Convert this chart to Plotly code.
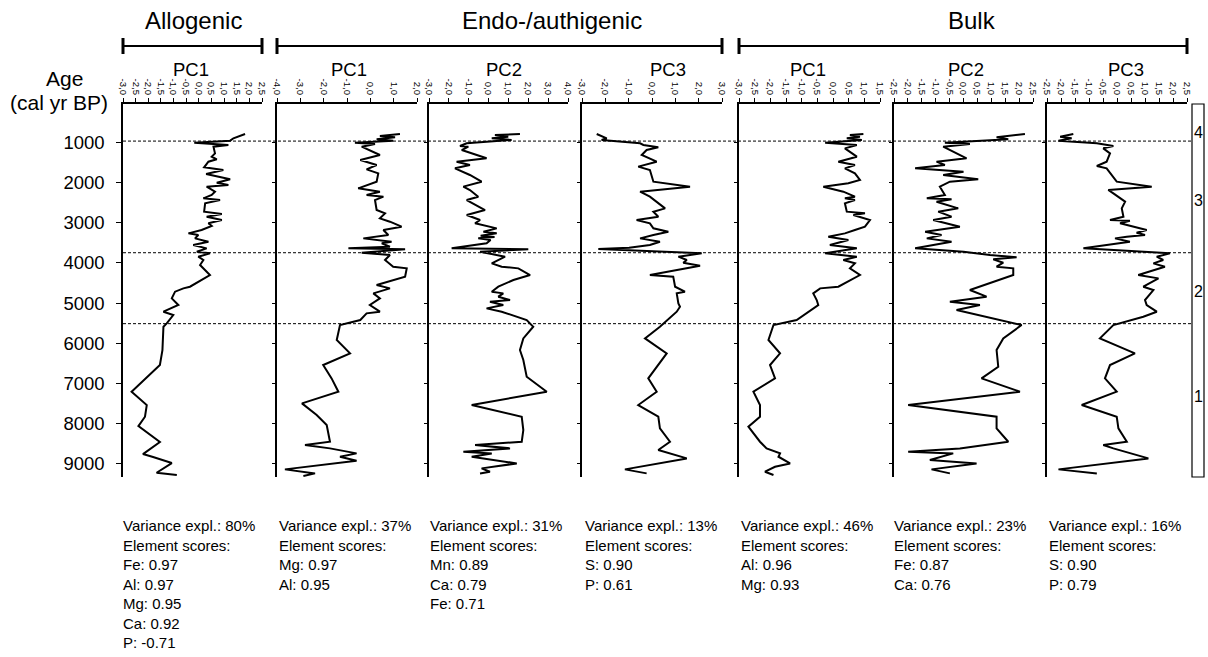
import plotly.graph_objects as go

W, H = 1208, 657
FONT = "Liberation Sans, Arial, sans-serif"

# ---------------- data ----------------
age_ticks = [1000, 2000, 3000, 4000, 5000, 6000, 7000, 8000, 9000]
zone_bounds = [960, 3745, 5515]
zone_labels = ["4", "3", "2", "1"]
zone_label_ages = [758, 2430, 4717, 7337]

group_names = ["Allogenic", "Endo-/authigenic", "Bulk"]
panel_names = ["PC1", "PC1", "PC2", "PC3", "PC1", "PC2", "PC3"]

ticks_allo_pc1 = [-3.0, -2.5, -2.0, -1.5, -1.0, -0.5, 0.0, 0.5, 1.0, 1.5, 2.0, 2.5]
ticks_endo_pc1 = [-4.0, -3.0, -2.0, -1.0, 0.0, 1.0, 2.0]
ticks_endo_pc2 = [-3.0, -2.0, -1.0, 0.0, 1.0, 2.0, 3.0, 4.0]
ticks_endo_pc3 = [-3.0, -2.0, -1.0, 0.0, 1.0, 2.0, 3.0]
ticks_bulk_pc1 = [-3.0, -2.5, -2.0, -1.5, -1.0, -0.5, 0.0, 0.5, 1.0, 1.5]
ticks_bulk_pc2 = [-2.5, -2.0, -1.5, -1.0, -0.5, 0.0, 0.5, 1.0, 1.5, 2.0, 2.5]
ticks_bulk_pc3 = [-2.5, -2.0, -1.5, -1.0, -0.5, 0.0, 0.5, 1.0, 1.5, 2.0, 2.5]

allo_pc1_age = [783, 891, 950, 1000, 1058, 1099, 1266, 1349, 1415, 1474, 1615, 1682, 1781, 1914,
                1998, 2056, 2097, 2222, 2305, 2388, 2430, 2513, 2721, 2779, 2846, 2929, 3012, 3079,
                3178, 3262, 3303, 3387, 3470, 3553, 3636, 3719, 3761, 3844, 3927, 4052, 4301, 4593,
                4634, 4717, 4884, 5050, 5216, 5300, 5507, 5591, 6173, 6547, 7212, 7545, 7836, 8069,
                8468, 8768, 8843, 8992, 9234, 9291]
allo_pc1 = [1.83, 1.37, 1.24, -0.18, 1.17, 0.58, 0.64, 0.51, 0.71, 0.38, 0.21, 0.97, 0.29, 1.24,
            0.71, 1.17, 0.31, 0.64, 0.51, 0.18, 0.84, 0.25, 0.21, 0.91, 0.31, 0.91, 0.38, 0.51,
            0.11, -0.41, -0.02, -0.15, 0.38, -0.22, 0.31, -0.08, 0.44, -0.02, 0.18, 0.05, 0.44, -0.35,
            -0.61, -0.94, -1.07, -0.81, -1.40, -1.01, -1.27, -1.40, -1.44, -1.54, -2.66, -2.06, -2.13, -2.39,
            -1.54, -2.21, -1.81, -1.07, -1.67, -0.87]

endo_pc1_age = [783, 833, 866, 916, 950, 1000, 1033, 1099, 1307, 1432, 1557, 1665, 1765, 1973,
                2139, 2222, 2305, 2347, 2430, 2680, 2763, 2887, 2971, 3095, 3178, 3303, 3387, 3470,
                3511, 3595, 3636, 3661, 3744, 3802, 3927, 4094, 4135, 4343, 4551, 4634, 4759, 4884,
                5050, 5216, 5258, 5424, 5549, 5923, 6256, 6547, 6880, 7212, 7503, 7795, 8044, 8460,
                8543, 8626, 8751, 8834, 8934, 9150, 9250, 9316]
endo_pc1 = [1.27, 0.41, 1.06, 0.27, 0.98, -0.66, 0.20, -0.37, 0.41, -0.43, 0.27, -0.16, 0.34, 0.27,
            -0.52, 0.41, -0.16, 0.56, 0.20, 0.27, 0.63, 0.41, 0.84, 1.34, 0.56, 0.77, -0.30, 0.91,
            0.49, 0.84, -0.94, 1.49, -0.37, 0.84, 0.63, 0.98, 1.56, 1.49, 0.27, 0.84, 0.13, 0.41,
            -0.02, 0.41, -0.16, -0.43, -1.30, -1.44, -0.87, -2.02, -1.66, -1.37, -2.93, -2.30, -1.87, -1.73,
            -2.80, -1.73, -0.59, -1.30, -0.59, -3.66, -2.37, -2.87]

endo_pc2_age = [783, 808, 850, 891, 933, 975, 1016, 1083, 1099, 1183, 1390, 1474, 1557, 1640,
                1806, 1973, 2097, 2181, 2347, 2430, 2555, 2680, 2804, 2929, 3012, 3137, 3220, 3262,
                3320, 3350, 3387, 3428, 3511, 3636, 3661, 3719, 3844, 4010, 4094, 4135, 4301, 4426,
                4593, 4717, 4759, 4842, 4925, 4967, 5050, 5133, 5216, 5258, 5424, 5591, 5882, 6173,
                6422, 6838, 7212, 7545, 7836, 8169, 8460, 8543, 8626, 8709, 8751, 8834, 9001, 9125,
                9208, 9250]
endo_pc2 = [1.58, 0.32, 0.99, 0.16, 1.16, 0.07, -1.10, -1.44, -1.02, -1.35, -0.10, -1.61, -0.94, -1.69,
            -0.94, -0.35, -1.27, -0.94, -0.52, -1.10, -0.60, -0.18, -1.10, -0.43, -0.68, 0.41, -0.26, 0.41,
            -0.40, 0.30, -0.52, 0.10, -0.10, -1.86, 2.00, -0.43, 0.83, 0.16, 0.66, 1.50, 2.09, 1.25,
            0.49, 0.16, 0.74, 0.49, 1.08, 0.07, 0.74, -0.10, 0.66, 0.91, 1.92, 2.25, 1.75, 1.58,
            1.75, 1.92, 2.93, -0.85, 1.67, 1.75, 1.67, -0.68, 1.08, -1.27, 0.16, -0.85, 1.42, -0.35,
            0.07, -0.43]

endo_pc3_age = [783, 891, 933, 950, 1016, 1058, 1116, 1183, 1307, 1474, 1598, 1682, 1973, 2097,
                2222, 2347, 2638, 2721, 2846, 2929, 3012, 3137, 3220, 3303, 3387, 3470, 3553, 3620,
                3655, 3761, 3844, 3927, 3994, 4069, 4301, 4343, 4593, 4717, 4759, 5009, 5092, 5216,
                5591, 5882, 6256, 6880, 7212, 7545, 7836, 8127, 8460, 8668, 8876, 9150, 9250]
endo_pc3 = [-2.37, -1.94, -2.16, -1.73, -0.51, -0.37, 0.27, -0.23, -0.44, 0.20, -0.59, -0.09, 0.06, 1.63,
            -0.51, -0.09, 0.56, 0.06, 0.27, -0.66, -0.09, 0.06, 0.70, 0.06, -0.51, 0.34, -0.09, -0.98,
            -2.30, 2.13, 1.13, 1.49, 1.34, 2.06, -0.09, 0.91, 0.99, 1.41, 1.06, 1.13, 1.20, 1.06,
            0.34, -0.30, 0.63, -0.16, 0.20, -0.59, 0.27, 0.34, 0.77, 0.27, 1.49, -1.16, -0.23]

bulk_pc1_age = [783, 808, 850, 891, 933, 1000, 1058, 1141, 1349, 1474, 1557, 1640, 1765, 1931,
                2014, 2097, 2222, 2347, 2388, 2430, 2513, 2721, 2763, 2804, 2929, 3095, 3178, 3262,
                3345, 3428, 3553, 3636, 3761, 3844, 3927, 4010, 4135, 4301, 4593, 4634, 4759, 4925,
                5050, 5424, 5549, 5923, 6256, 6547, 6880, 7212, 7545, 7836, 8086, 8460, 8626, 8751,
                8834, 9001, 9084, 9208, 9291]
bulk_pc1 = [0.97, 0.54, 0.86, 0.44, 0.92, -0.25, 0.76, 0.38, 0.76, 0.17, 0.70, 0.38, 0.70, 0.86,
            0.49, -0.31, 0.33, 0.70, 0.38, 0.70, 0.38, 0.44, 1.02, 0.65, 1.18, 1.02, 0.70, 0.38,
            -0.15, 0.49, -0.10, 0.76, -0.25, 0.76, 0.33, 0.70, 0.54, 0.86, 0.17, -0.41, -0.63, -0.52,
            -0.47, -1.16, -1.90, -2.06, -1.69, -2.01, -1.85, -2.54, -2.33, -2.33, -2.70, -2.33, -2.12, -1.69,
            -1.74, -1.37, -1.85, -2.17, -1.90]

bulk_pc2_age = [783, 866, 916, 975, 1000, 1033, 1099, 1390, 1474, 1557, 1640, 1723, 1806, 1914,
                1973, 2097, 2305, 2388, 2413, 2472, 2638, 2721, 2846, 2929, 3095, 3220, 3303, 3387,
                3470, 3636, 3719, 3802, 3861, 3910, 3994, 4094, 4135, 4301, 4676, 4842, 4967, 5050,
                5175, 5549, 5882, 6173, 6589, 6880, 7212, 7545, 7836, 8127, 8460, 8626, 8709, 8751,
                8918, 9001, 9150, 9250]
bulk_pc2 = [2.21, 1.19, 1.61, 0.00, -0.67, 0.23, -0.73, 0.11, -0.97, -0.67, -1.74, 0.00, -0.73, 0.53,
            -0.49, -0.85, -0.67, -1.32, -0.43, -0.97, -0.19, -0.91, -0.43, -1.09, -0.13, -1.38, -0.79, -1.32,
            -0.43, -1.74, 0.00, 0.95, 1.91, 1.07, 1.43, 1.19, 1.79, 1.79, 0.23, 0.83, -0.49, 0.59,
            -0.25, 2.09, 1.43, 1.19, 1.25, 0.65, 2.03, -1.99, 1.19, 1.19, 1.61, -0.13, -1.99, -0.37,
            -1.21, 0.47, -1.15, -0.49]

bulk_pc3_age = [783, 850, 891, 950, 1016, 1083, 1141, 1266, 1474, 1582, 1640, 1973, 2097, 2181,
                2264, 2472, 2638, 2846, 2929, 2946, 3012, 3178, 3245, 3303, 3345, 3387, 3470, 3636,
                3761, 3844, 3927, 4010, 4094, 4301, 4385, 4593, 4676, 4925, 5050, 5216, 5341, 5549,
                5882, 6256, 6547, 6880, 7212, 7545, 7836, 8127, 8460, 8543, 8626, 8876, 9150, 9250]
bulk_pc3 = [-1.56, -2.03, -1.62, -2.09, -0.72, -0.13, -0.49, -0.25, -0.37, -0.72, -0.37, -0.01, 1.24, -0.31,
            -0.13, 0.29, 0.17, 0.23, -0.25, 0.46, 0.11, 1.06, 0.70, 1.00, 0.35, -0.07, 0.46, -1.20,
            1.89, 1.42, 1.65, 1.30, 1.71, 0.76, 1.48, 0.94, 1.30, 1.00, 1.06, 1.42, 0.94, -0.13,
            -0.61, 0.64, -0.25, -0.43, -0.01, -1.26, -0.01, 0.05, 0.35, -0.49, -0.13, 1.12, -2.09, -0.72]

variance_texts = [
    ["Variance expl.: 80%", "Element scores:", "Fe: 0.97", "Al: 0.97", "Mg: 0.95", "Ca: 0.92", "P: -0.71"],
    ["Variance expl.: 37%", "Element scores:", "Mg: 0.97", "Al: 0.95"],
    ["Variance expl.: 31%", "Element scores:", "Mn: 0.89", "Ca: 0.79", "Fe: 0.71"],
    ["Variance expl.: 13%", "Element scores:", "S: 0.90", "P: 0.61"],
    ["Variance expl.: 46%", "Element scores:", "Al: 0.96", "Mg: 0.93"],
    ["Variance expl.: 23%", "Element scores:", "Fe: 0.87", "Ca: 0.76"],
    ["Variance expl.: 16%", "Element scores:", "S: 0.90", "P: 0.79"],
]

# ---------------- layout geometry (pixels) ----------------
panels = [
    # (x0, x1, range, ticks, ages, values)
    (123, 262, [-3.0, 2.5], ticks_allo_pc1, allo_pc1_age, allo_pc1),
    (277, 417, [-4.0, 2.0], ticks_endo_pc1, endo_pc1_age, endo_pc1),
    (429, 568, [-3.0, 4.0], ticks_endo_pc2, endo_pc2_age, endo_pc2),
    (582, 722, [-3.0, 3.0], ticks_endo_pc3, endo_pc3_age, endo_pc3),
    (739, 880, [-3.0, 1.5], ticks_bulk_pc1, bulk_pc1_age, bulk_pc1),
    (894, 1033, [-2.5, 2.5], ticks_bulk_pc2, bulk_pc2_age, bulk_pc2),
    (1047, 1187, [-2.5, 2.5], ticks_bulk_pc3, bulk_pc3_age, bulk_pc3),
]
Y_TOP, Y_BOT = 104, 477
AGE_RANGE = [9340, 35]


def px(x):
    return x / W


def py(y):
    return 1 - y / H


def fmt(v):
    return f"{v:.1f}".replace(".", ",")


fig = go.Figure()
layout = dict(
    width=W, height=H, autosize=False,
    margin=dict(l=0, r=0, t=0, b=0),
    paper_bgcolor="white", plot_bgcolor="white",
    showlegend=False,
    font=dict(family=FONT, color="black"),
)

for i, (x0, x1, rng, ticks, ages, vals) in enumerate(panels, start=1):
    sfx = "" if i == 1 else str(i)
    fig.add_trace(go.Scatter(
        x=vals, y=ages, mode="lines",
        line=dict(color="black", width=2),
        xaxis="x" + sfx, yaxis="y" + sfx, hoverinfo="skip",
    ))
    layout["xaxis" + sfx] = dict(
        domain=[px(x0), px(x1)], range=rng, side="top", anchor="y" + sfx,
        showline=True, linecolor="black", linewidth=1.5,
        ticks="outside", ticklen=4, tickwidth=1.2, tickcolor="black",
        tickvals=ticks, ticktext=[fmt(v) for v in ticks], tickangle=90,
        tickfont=dict(size=9.5, family=FONT, color="black"),
        showgrid=False, zeroline=False, automargin=False, fixedrange=True,
    )
    ya = dict(
        domain=[py(Y_BOT), py(Y_TOP)], range=AGE_RANGE, anchor="x" + sfx,
        showline=True, linecolor="black", linewidth=1.5,
        ticks="outside", ticklen=5 if i == 1 else 3, tickwidth=1.2, tickcolor="black",
        tickvals=age_ticks, showticklabels=(i == 1),
        tickfont=dict(size=18.5, family=FONT, color="black"),
        showgrid=False, zeroline=False, automargin=False, fixedrange=True,
    )
    if i == 1:
        ya["ticklabelstandoff"] = 8
    else:
        ya["matches"] = "y"
    layout["yaxis" + sfx] = ya

fig.update_layout(**layout)

shapes = []
# zone boundary dashed lines
for b in zone_bounds:
    shapes.append(dict(type="line", xref="paper", yref="y", x0=px(123), x1=px(1192), y0=b, y1=b,
                       line=dict(color="black", width=1, dash="3px,2px"), layer="below"))
# zone column
shapes.append(dict(type="rect", xref="paper", yref="paper", x0=px(1192), x1=px(1204),
                   y0=py(Y_BOT), y1=py(Y_TOP), line=dict(color="black", width=1.2)))
# group brackets
for (bx0, bx1) in [(123, 262), (277, 722), (739, 1187)]:
    shapes.append(dict(type="line", xref="paper", yref="paper", x0=px(bx0), x1=px(bx1),
                       y0=py(46), y1=py(46), line=dict(color="black", width=2)))
    for bx in (bx0, bx1):
        shapes.append(dict(type="line", xref="paper", yref="paper", x0=px(bx), x1=px(bx),
                           y0=py(38), y1=py(54), line=dict(color="black", width=3)))
fig.update_layout(shapes=shapes)

ann = []
# group titles
for name, cx in zip(group_names, [194, 552, 972]):
    ann.append(dict(text=name, x=px(cx), y=py(20), xref="paper", yref="paper",
                    showarrow=False, xanchor="center", yanchor="middle",
                    font=dict(size=24, family=FONT, color="black")))
# panel titles
for name, cx in zip(panel_names, [191, 349, 504, 668, 808, 966, 1126]):
    ann.append(dict(text=name, x=px(cx), y=py(69), xref="paper", yref="paper",
                    showarrow=False, xanchor="center", yanchor="middle",
                    font=dict(size=18.5, family=FONT, color="black")))
# y axis title
ann.append(dict(text="Age", x=px(64), y=py(79), xref="paper", yref="paper", showarrow=False,
                xanchor="center", yanchor="middle", font=dict(size=21, family=FONT, color="black")))
ann.append(dict(text="(cal yr BP)", x=px(59), y=py(103), xref="paper", yref="paper", showarrow=False,
                xanchor="center", yanchor="middle", font=dict(size=21, family=FONT, color="black")))
# zone labels
for lab, a in zip(zone_labels, zone_label_ages):
    ann.append(dict(text=lab, x=px(1198), y=a, xref="paper", yref="y", showarrow=False,
                    xanchor="center", yanchor="middle", font=dict(size=16, family=FONT, color="black")))
# variance text blocks
for lines, lx in zip(variance_texts, [123, 279, 430, 585, 741, 894, 1049]):
    ann.append(dict(text="<br>".join(lines), x=px(lx - 2), y=py(515), xref="paper", yref="paper",
                    showarrow=False, xanchor="left", yanchor="top", align="left",
                    font=dict(size=15, family=FONT, color="black")))
fig.update_layout(annotations=ann)

fig.write_html("out.html", config={"displayModeBar": False},
               post_script="document.body.style.margin='0px';")
